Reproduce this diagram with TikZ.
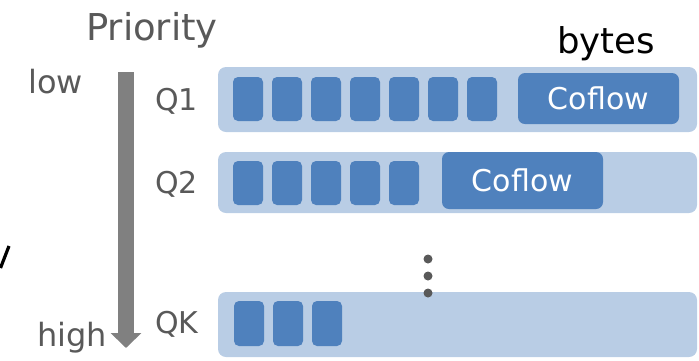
\documentclass[tikz,border=0pt]{standalone}
\usepackage{fontspec}
\setmainfont{DejaVu Sans}
\usetikzlibrary{arrows.meta}
\definecolor{barblue}{HTML}{B9CDE5}
\definecolor{boxblue}{HTML}{4F81BD}
\definecolor{labelgray}{HTML}{595959}
\definecolor{arrowgray}{HTML}{808080}
\tikzset{
  queuebar/.style={rectangle, rounded corners=8pt, fill=barblue, inner sep=0pt,
    minimum width=479pt},
  pkt/.style={rectangle, rounded corners=5pt, fill=boxblue, inner sep=0pt,
    minimum width=30pt},
  coflowbox/.style={rectangle, rounded corners=7pt, fill=boxblue, inner sep=0pt,
    minimum width=161pt, text=white, font=\fontsize{30}{32}\selectfont},
  qlabel/.style={anchor=base west, inner sep=0pt, text=labelgray,
    font=\fontsize{30}{32}\selectfont},
  axislabel/.style={inner sep=0pt, text=labelgray, font=\fontsize{32}{34}\selectfont},
  dot/.style={circle, fill=labelgray, inner sep=0pt, minimum size=9pt}
}
\begin{document}
\begin{tikzpicture}[x=1pt,y=-1pt]
\useasboundingbox (0,0) rectangle (699,360);

% priority axis
\node[axislabel, anchor=base, font=\fontsize{37}{39}\selectfont] (prio) at (152,40) {Priority};
\node[axislabel, anchor=base west] (low) at (28,93) {low};
\node[axislabel, anchor=base west] (high) at (37,346) {high};
\coordinate (atop) at (126,72);
\coordinate (atip) at (126,348);
\draw[arrowgray, line width=16pt, -{Triangle[width=30pt,length=15pt]}] (atop) -- (atip);

% label on the byte axis
\node[anchor=base west, inner sep=0pt, font=\fontsize{35.5}{37}\selectfont] (bytes) at (557,53) {bytes};

% clipped glyph at the left border
\coordinate (ya) at (0.5,268);
\coordinate (yb) at (9,246);
\draw[black, line width=3.2pt] (ya) -- (yb);

% queue labels
\node[qlabel] (q1) at (155,110) {Q1};
\node[qlabel] (q2) at (155,193) {Q2};
\node[qlabel] (qk) at (155,333) {QK};

% queues
\node[queuebar, minimum height=65pt] (bar1) at (457.5,99.5) {};
\node[queuebar, minimum height=61pt] (bar2) at (457.5,182.5) {};
\node[queuebar, minimum height=65pt] (bark) at (457.5,324.5) {};

% queue 1 contents
\foreach \i in {0,...,6}
  \node[pkt, minimum height=44pt] (p1-\i) at (248+39*\i,99) {};
\node[coflowbox, minimum height=51pt] (cf1) at (598.5,98.5) {Coflow};

% queue 2 contents
\foreach \i in {0,...,4}
  \node[pkt, minimum height=44pt] (p2-\i) at (248+39*\i,183) {};
\node[coflowbox, minimum height=57pt] (cf2) at (522.5,180.5) {Coflow};

% queue K contents
\foreach \i in {0,...,2}
  \node[pkt, minimum height=45pt] (pk-\i) at (249+39*\i,323.5) {};

% vertical ellipsis
\node[dot] (d1) at (428,259) {};
\node[dot] (d2) at (428,276) {};
\node[dot] (d3) at (428,293) {};
\end{tikzpicture}
\end{document}
